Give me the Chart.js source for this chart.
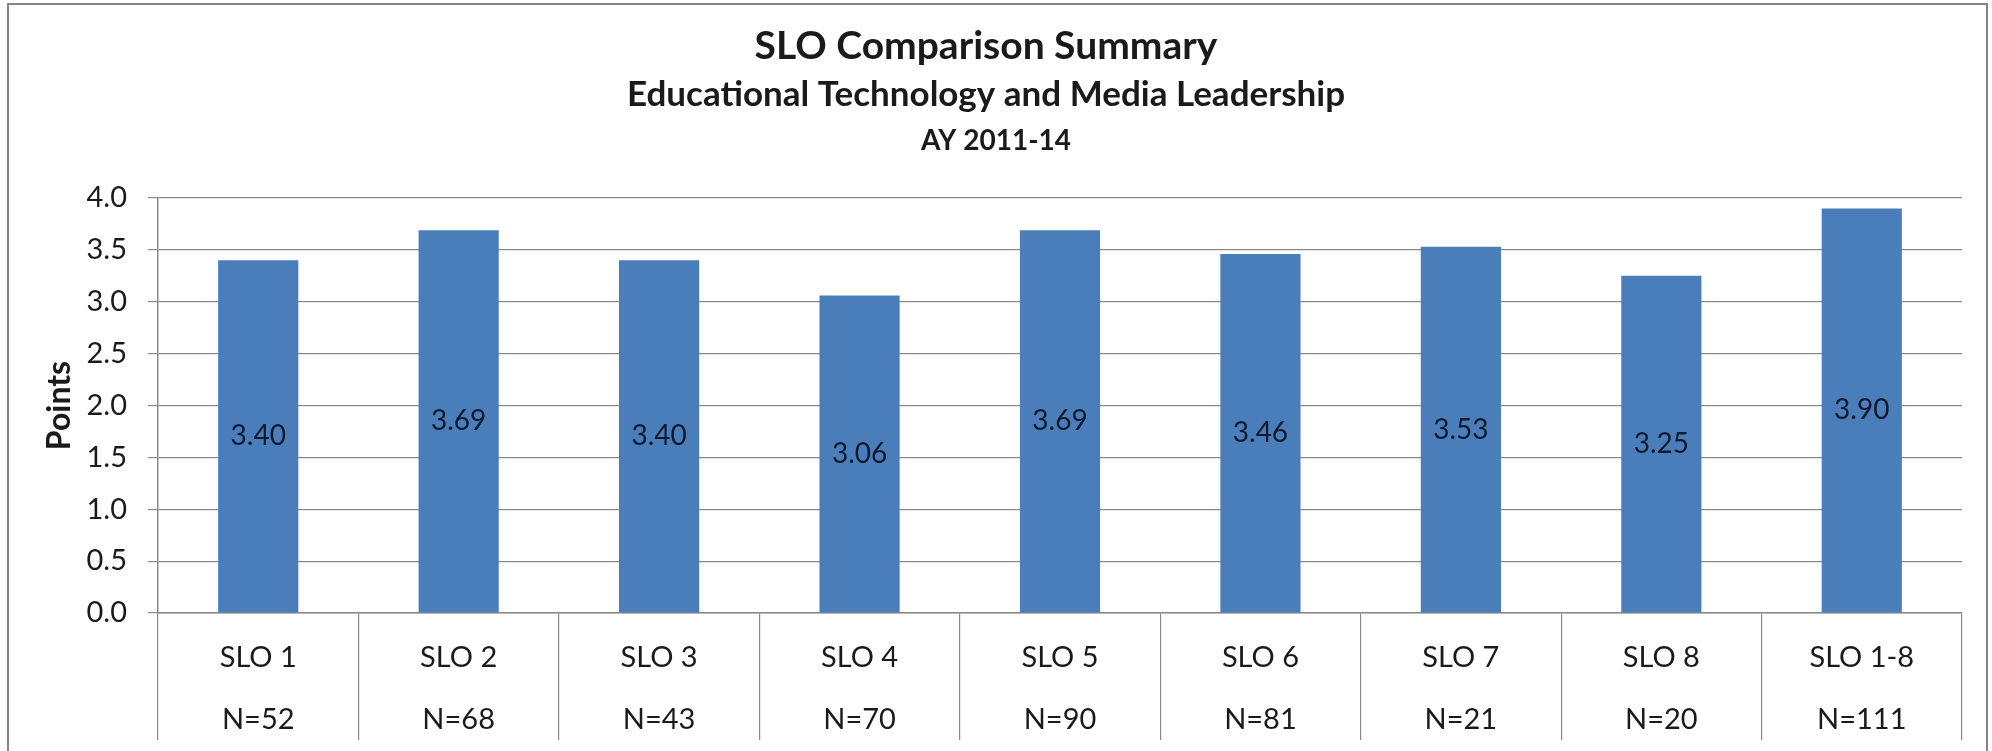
<!DOCTYPE html>
<html>
<head>
<meta charset="utf-8">
<script src="https://cdn.jsdelivr.net/npm/chart.js@4.4.1/dist/chart.umd.min.js"></script>
<style>
  html, body { margin: 0; padding: 0; background: #ffffff; }
  #wrap { position: relative; width: 1992px; height: 751px; }
  canvas { display: block; }
</style>
</head>
<body>
<div id="wrap"><canvas id="c" width="1992" height="751"></canvas></div>
<script>
// ---- Data ----
const categories = ['SLO 1', 'SLO 2', 'SLO 3', 'SLO 4', 'SLO 5', 'SLO 6', 'SLO 7', 'SLO 8', 'SLO 1-8'];
const sampleSizes = ['N=52', 'N=68', 'N=43', 'N=70', 'N=90', 'N=81', 'N=21', 'N=20', 'N=111'];
const points = [3.40, 3.69, 3.40, 3.06, 3.69, 3.46, 3.53, 3.25, 3.90];
const yTicks = [0.0, 0.5, 1.0, 1.5, 2.0, 2.5, 3.0, 3.5, 4.0];
const titleLines = ['SLO Comparison Summary', 'Educational Technology and Media Leadership', 'AY 2011-14'];
const yAxisTitle = 'Points';

const FONT = 'Lato, "Open Sans", "Noto Sans", sans-serif';
const GRID = '#8a8a8a';
const TEXT = '#1a1a1a';

const labels = categories.map((c, i) => [c, sampleSizes[i]]);

// Outer frame of the chart
const framePlugin = {
  id: 'frame',
  beforeDraw(chart) {
    const ctx = chart.ctx;
    ctx.save();
    ctx.fillStyle = '#ffffff';
    ctx.fillRect(0, 0, chart.width, chart.height);
    ctx.strokeStyle = '#858585';
    ctx.lineWidth = 2;
    ctx.strokeRect(8, 4, 1979, 770);
    ctx.restore();
  }
};

// Third title line
const thirdLinePlugin = {
  id: 'thirdLine',
  afterDraw(chart) {
    const ctx = chart.ctx;
    ctx.save();
    ctx.font = 'bold 28px ' + FONT;
    ctx.fillStyle = TEXT;
    ctx.textAlign = 'center';
    ctx.textBaseline = 'middle';
    ctx.fillText(titleLines[2], chart.width / 2, 141);
    ctx.restore();
  }
};

// Value labels centred inside bars
const valueLabelPlugin = {
  id: 'valueLabels',
  afterDatasetsDraw(chart) {
    const ctx = chart.ctx;
    const meta = chart.getDatasetMeta(0);
    ctx.save();
    ctx.font = '28px ' + FONT;
    ctx.fillStyle = '#0f1a2e';
    ctx.textAlign = 'center';
    ctx.textBaseline = 'middle';
    meta.data.forEach((bar, i) => {
      const p = bar.getCenterPoint();
      ctx.fillText(points[i].toFixed(2), p.x, p.y);
    });
    ctx.restore();
  }
};

new Chart(document.getElementById('c'), {
  type: 'bar',
  data: {
    labels: labels,
    datasets: [{
      data: points,
      backgroundColor: '#4a7ebb',
      borderWidth: 0,
      barPercentage: 0.4,
      categoryPercentage: 1.0
    }]
  },
  options: {
    responsive: false,
    animation: false,
    devicePixelRatio: 1,
    layout: { padding: { left: 10, right: 30, top: 0, bottom: 0 } },
    plugins: {
      legend: { display: false },
      tooltip: { enabled: false },
      title: {
        display: true,
        text: titleLines[0],
        color: TEXT,
        font: { family: FONT, size: 39, weight: 'bold', lineHeight: 1.2 },
        padding: { top: 23.5, bottom: 0 }
      },
      subtitle: {
        display: true,
        text: titleLines[1],
        color: TEXT,
        font: { family: FONT, size: 35, weight: 'bold', lineHeight: 1.2 },
        padding: { top: 3.2, bottom: 82.5 }
      }
    },
    scales: {
      x: {
        type: 'category',
        offset: true,
        border: { display: true, color: GRID, width: 1.5 },
        grid: {
          offset: true,
          drawOnChartArea: false,
          drawTicks: true,
          tickLength: 127,
          color: GRID,
          lineWidth: 1.2
        },
        ticks: {
          color: TEXT,
          font: { family: FONT, size: 29, lineHeight: '62px' },
          padding: -113,
          maxRotation: 0,
          autoSkip: false
        },
        afterFit(scale) { scale.height = 138; }
      },
      y: {
        min: 0,
        max: 4,
        border: { display: true, color: GRID, width: 1.5 },
        grid: {
          color: GRID,
          lineWidth: 1.2,
          drawTicks: true,
          tickLength: 10
        },
        afterBuildTicks(scale) {
          scale.ticks = yTicks.map(v => ({ value: v }));
        },
        ticks: {
          color: TEXT,
          font: { family: FONT, size: 29 },
          padding: 21,
          callback: (v) => Number(v).toFixed(1)
        },
        title: {
          display: true,
          text: yAxisTitle,
          color: TEXT,
          font: { family: FONT, size: 32, weight: 'bold', lineHeight: 1.2 },
          padding: { top: 30, bottom: 0 }
        },
        afterFit(scale) { scale.width = 148; }
      }
    }
  },
  plugins: [framePlugin, thirdLinePlugin, valueLabelPlugin]
});
</script>
</body>
</html>
